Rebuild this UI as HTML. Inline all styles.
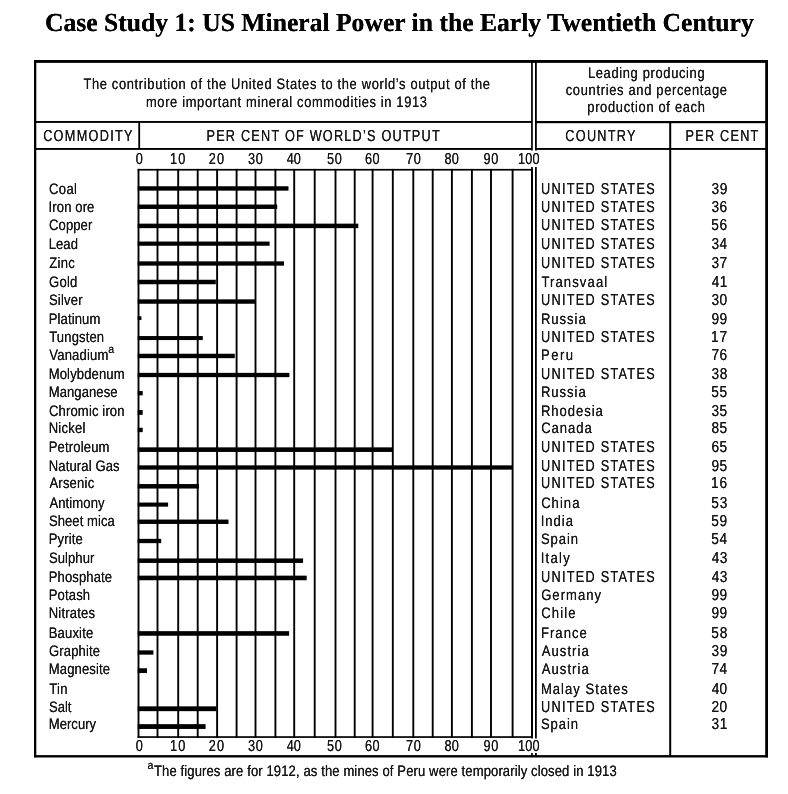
<!DOCTYPE html>
<html><head><meta charset="utf-8"><title>Case Study 1: US Mineral Power in the Early Twentieth Century</title>
<style>
html,body{margin:0;padding:0;background:#fff;width:788px;height:794px;overflow:hidden}
svg{display:block}
text{font-family:"Liberation Sans", Arial, sans-serif;fill:#151515;text-rendering:geometricPrecision}
text.ttl{font-family:"Liberation Serif", "Times New Roman", serif;font-weight:bold;fill:#000}
</style></head><body>
<svg width="788" height="794" viewBox="0 0 788 794">
<defs><filter id="k1" x="-5%" y="-30%" width="110%" height="160%"><feOffset in="SourceGraphic" dx="0.35" dy="0" result="o"/><feMerge><feMergeNode in="SourceGraphic"/><feMergeNode in="o"/></feMerge></filter><filter id="k2" x="-5%" y="-30%" width="110%" height="160%"><feOffset in="SourceGraphic" dx="0.45" dy="0" result="o"/><feMerge><feMergeNode in="SourceGraphic"/><feMergeNode in="o"/></feMerge></filter></defs>
<rect width="788" height="794" fill="#fff"/>
<g fill="#000">
<rect x="34.00" y="60.00" width="734.00" height="2.90"/>
<rect x="34.00" y="60.00" width="2.30" height="697.30"/>
<rect x="34.00" y="755.10" width="734.00" height="2.40"/>
<rect x="765.20" y="60.00" width="2.80" height="697.30"/>
<rect x="531.10" y="60.00" width="1.70" height="90.50"/>
<rect x="535.00" y="60.00" width="1.80" height="90.50"/>
<rect x="531.10" y="167.00" width="1.70" height="571.50"/>
<rect x="535.00" y="167.00" width="1.80" height="571.50"/>
<rect x="531.10" y="753.00" width="1.70" height="4.00"/>
<rect x="535.00" y="753.00" width="1.80" height="4.00"/>
<rect x="34.00" y="121.00" width="498.00" height="1.90"/>
<rect x="535.00" y="121.00" width="233.00" height="2.20"/>
<rect x="34.00" y="148.00" width="498.00" height="1.90"/>
<rect x="535.00" y="148.00" width="233.00" height="1.90"/>
<rect x="138.30" y="121.00" width="1.80" height="28.00"/>
<rect x="669.20" y="121.00" width="2.00" height="636.00"/>
<rect x="137.70" y="168.90" width="395.00" height="1.70"/>
<rect x="137.70" y="736.20" width="395.00" height="1.70"/>
<rect x="137.55" y="168.90" width="1.90" height="569.00"/>
<rect x="156.55" y="168.90" width="1.90" height="569.00"/>
<rect x="177.25" y="168.90" width="1.90" height="569.00"/>
<rect x="196.75" y="168.90" width="1.90" height="569.00"/>
<rect x="216.15" y="168.90" width="1.90" height="569.00"/>
<rect x="235.65" y="168.90" width="1.90" height="569.00"/>
<rect x="254.55" y="168.90" width="1.90" height="569.00"/>
<rect x="274.45" y="168.90" width="1.90" height="569.00"/>
<rect x="293.25" y="168.90" width="1.90" height="569.00"/>
<rect x="313.75" y="168.90" width="1.90" height="569.00"/>
<rect x="334.55" y="168.90" width="1.90" height="569.00"/>
<rect x="353.75" y="168.90" width="1.90" height="569.00"/>
<rect x="371.65" y="168.90" width="1.90" height="569.00"/>
<rect x="391.85" y="168.90" width="1.90" height="569.00"/>
<rect x="412.35" y="168.90" width="1.90" height="569.00"/>
<rect x="431.75" y="168.90" width="1.90" height="569.00"/>
<rect x="450.95" y="168.90" width="1.90" height="569.00"/>
<rect x="470.95" y="168.90" width="1.90" height="569.00"/>
<rect x="490.05" y="168.90" width="1.90" height="569.00"/>
<rect x="511.65" y="168.90" width="1.90" height="569.00"/>
<rect x="531.10" y="168.90" width="1.90" height="569.00"/>
<rect x="137.70" y="186.25" width="150.80" height="4.40"/>
<rect x="137.70" y="204.55" width="139.50" height="4.40"/>
<rect x="137.70" y="223.65" width="220.60" height="4.50"/>
<rect x="137.70" y="241.55" width="131.90" height="4.20"/>
<rect x="137.70" y="261.35" width="146.30" height="4.30"/>
<rect x="137.70" y="279.75" width="78.10" height="4.50"/>
<rect x="137.70" y="299.35" width="117.40" height="4.40"/>
<rect x="137.70" y="316.25" width="3.70" height="3.80"/>
<rect x="137.70" y="336.05" width="65.10" height="4.00"/>
<rect x="137.70" y="353.75" width="97.10" height="4.40"/>
<rect x="137.70" y="372.85" width="151.70" height="4.30"/>
<rect x="137.70" y="391.05" width="5.00" height="4.30"/>
<rect x="137.70" y="410.05" width="5.00" height="4.80"/>
<rect x="137.70" y="427.75" width="5.00" height="4.40"/>
<rect x="137.70" y="447.35" width="254.90" height="4.60"/>
<rect x="137.70" y="465.35" width="374.90" height="4.30"/>
<rect x="137.70" y="484.05" width="61.30" height="4.50"/>
<rect x="137.70" y="502.55" width="30.40" height="4.10"/>
<rect x="137.70" y="519.55" width="90.80" height="4.40"/>
<rect x="137.70" y="538.85" width="23.50" height="4.30"/>
<rect x="137.70" y="558.45" width="165.40" height="4.50"/>
<rect x="137.70" y="575.65" width="169.00" height="4.60"/>
<rect x="137.70" y="631.15" width="151.40" height="4.60"/>
<rect x="137.70" y="650.35" width="15.70" height="4.30"/>
<rect x="137.70" y="668.25" width="9.30" height="4.80"/>
<rect x="137.70" y="706.35" width="78.60" height="4.80"/>
<rect x="137.70" y="724.15" width="67.90" height="4.80"/>
</g>
<g>
<g filter="url(#k1)"><text id="t0" class="ttl" x="44.89" y="30.60" font-size="26" textLength="708.83" lengthAdjust="spacingAndGlyphs">Case Study 1: US Mineral Power in the Early Twentieth Century</text></g>
<g filter="url(#k1)" transform="translate(83.42,0) scale(0.85,1)"><text id="t1" x="0" y="88.70" font-size="15.2" textLength="478.33" lengthAdjust="spacing">The contribution of the United States to the world&#8217;s output of the</text></g>
<g filter="url(#k1)" transform="translate(145.96,0) scale(0.85,1)"><text id="t2" x="0" y="106.50" font-size="15.2" textLength="330.65" lengthAdjust="spacing">more important mineral commodities in 1913</text></g>
<g filter="url(#k1)" transform="translate(587.90,0) scale(0.85,1)"><text id="t3" x="0" y="77.90" font-size="15.2" textLength="137.35" lengthAdjust="spacing">Leading producing</text></g>
<g filter="url(#k1)" transform="translate(565.73,0) scale(0.85,1)"><text id="t4" x="0" y="94.50" font-size="15.2" textLength="189.70" lengthAdjust="spacing">countries and percentage</text></g>
<g filter="url(#k1)" transform="translate(587.29,0) scale(0.85,1)"><text id="t5" x="0" y="111.50" font-size="15.2" textLength="138.36" lengthAdjust="spacing">production of each</text></g>
<g filter="url(#k1)" transform="translate(43.17,0) scale(0.8,1)"><text id="t6" x="0" y="141.00" font-size="15.9" textLength="111.64" lengthAdjust="spacing">COMMODITY</text></g>
<g filter="url(#k1)" transform="translate(206.49,0) scale(0.8,1)"><text id="t7" x="0" y="141.00" font-size="15.9" textLength="291.53" lengthAdjust="spacing">PER CENT OF WORLD&#8217;S OUTPUT</text></g>
<g filter="url(#k1)" transform="translate(565.34,0) scale(0.8,1)"><text id="t8" x="0" y="141.40" font-size="15.9" textLength="87.75" lengthAdjust="spacing">COUNTRY</text></g>
<g filter="url(#k1)" transform="translate(685.49,0) scale(0.8,1)"><text id="t9" x="0" y="141.40" font-size="15.9" textLength="91.04" lengthAdjust="spacing">PER CENT</text></g>
<g filter="url(#k1)" transform="translate(135.76,0) scale(0.8,1)"><text id="t10" x="0" y="164.10" font-size="15.9" textLength="6.37" lengthAdjust="spacing">0</text></g>
<g filter="url(#k1)" transform="translate(135.76,0) scale(0.8,1)"><text id="t11" x="0" y="750.80" font-size="15.9" textLength="6.37" lengthAdjust="spacing">0</text></g>
<g filter="url(#k1)" transform="translate(170.00,0) scale(0.8,1)"><text id="t12" x="0" y="164.10" font-size="15.9" textLength="19.04" lengthAdjust="spacing">10</text></g>
<g filter="url(#k1)" transform="translate(170.00,0) scale(0.8,1)"><text id="t13" x="0" y="750.80" font-size="15.9" textLength="19.04" lengthAdjust="spacing">10</text></g>
<g filter="url(#k1)" transform="translate(208.85,0) scale(0.8,1)"><text id="t14" x="0" y="164.10" font-size="15.9" textLength="19.00" lengthAdjust="spacing">20</text></g>
<g filter="url(#k1)" transform="translate(208.85,0) scale(0.8,1)"><text id="t15" x="0" y="750.80" font-size="15.9" textLength="19.00" lengthAdjust="spacing">20</text></g>
<g filter="url(#k1)" transform="translate(247.91,0) scale(0.8,1)"><text id="t16" x="0" y="164.10" font-size="15.9" textLength="18.58" lengthAdjust="spacing">30</text></g>
<g filter="url(#k1)" transform="translate(247.91,0) scale(0.8,1)"><text id="t17" x="0" y="750.80" font-size="15.9" textLength="18.58" lengthAdjust="spacing">30</text></g>
<g filter="url(#k1)" transform="translate(286.66,0) scale(0.8,1)"><text id="t18" x="0" y="164.10" font-size="15.9" textLength="17.85" lengthAdjust="spacing">40</text></g>
<g filter="url(#k1)" transform="translate(286.66,0) scale(0.8,1)"><text id="t19" x="0" y="750.80" font-size="15.9" textLength="17.85" lengthAdjust="spacing">40</text></g>
<g filter="url(#k1)" transform="translate(327.11,0) scale(0.8,1)"><text id="t20" x="0" y="164.10" font-size="15.9" textLength="18.46" lengthAdjust="spacing">50</text></g>
<g filter="url(#k1)" transform="translate(327.11,0) scale(0.8,1)"><text id="t21" x="0" y="750.80" font-size="15.9" textLength="18.46" lengthAdjust="spacing">50</text></g>
<g filter="url(#k1)" transform="translate(364.95,0) scale(0.8,1)"><text id="t22" x="0" y="164.10" font-size="15.9" textLength="18.16" lengthAdjust="spacing">60</text></g>
<g filter="url(#k1)" transform="translate(364.95,0) scale(0.8,1)"><text id="t23" x="0" y="750.80" font-size="15.9" textLength="18.16" lengthAdjust="spacing">60</text></g>
<g filter="url(#k1)" transform="translate(405.91,0) scale(0.8,1)"><text id="t24" x="0" y="164.10" font-size="15.9" textLength="18.61" lengthAdjust="spacing">70</text></g>
<g filter="url(#k1)" transform="translate(405.91,0) scale(0.8,1)"><text id="t25" x="0" y="750.80" font-size="15.9" textLength="18.61" lengthAdjust="spacing">70</text></g>
<g filter="url(#k1)" transform="translate(444.42,0) scale(0.8,1)"><text id="t26" x="0" y="164.10" font-size="15.9" textLength="18.15" lengthAdjust="spacing">80</text></g>
<g filter="url(#k1)" transform="translate(444.42,0) scale(0.8,1)"><text id="t27" x="0" y="750.80" font-size="15.9" textLength="18.15" lengthAdjust="spacing">80</text></g>
<g filter="url(#k1)" transform="translate(483.61,0) scale(0.8,1)"><text id="t28" x="0" y="164.10" font-size="15.9" textLength="18.27" lengthAdjust="spacing">90</text></g>
<g filter="url(#k1)" transform="translate(483.61,0) scale(0.8,1)"><text id="t29" x="0" y="750.80" font-size="15.9" textLength="18.27" lengthAdjust="spacing">90</text></g>
<g filter="url(#k1)" transform="translate(517.96,0) scale(0.8,1)"><text id="t30" x="0" y="164.10" font-size="15.9" textLength="26.98" lengthAdjust="spacing">100</text></g>
<g filter="url(#k1)" transform="translate(517.96,0) scale(0.8,1)"><text id="t31" x="0" y="750.80" font-size="15.9" textLength="26.98" lengthAdjust="spacing">100</text></g>
<g filter="url(#k2)" transform="translate(49.02,0) scale(0.86,1)"><text id="t32" x="0" y="193.80" font-size="15.2" textLength="32.40" lengthAdjust="spacing">Coal</text></g>
<g filter="url(#k1)" transform="translate(541.00,0) scale(0.8,1)"><text id="t33" x="0" y="193.80" font-size="15.9" textLength="142.02" lengthAdjust="spacing">UNITED STATES</text></g>
<g filter="url(#k1)" transform="translate(711.38,0) scale(0.86,1)"><text id="t34" x="0" y="193.80" font-size="15.9" textLength="18.63" lengthAdjust="spacing">39</text></g>
<g filter="url(#k2)" transform="translate(48.62,0) scale(0.86,1)"><text id="t35" x="0" y="211.80" font-size="15.2" textLength="53.19" lengthAdjust="spacing">Iron ore</text></g>
<g filter="url(#k1)" transform="translate(541.00,0) scale(0.8,1)"><text id="t36" x="0" y="211.80" font-size="15.9" textLength="142.02" lengthAdjust="spacing">UNITED STATES</text></g>
<g filter="url(#k1)" transform="translate(711.38,0) scale(0.86,1)"><text id="t37" x="0" y="211.80" font-size="15.9" textLength="18.36" lengthAdjust="spacing">36</text></g>
<g filter="url(#k2)" transform="translate(49.02,0) scale(0.86,1)"><text id="t38" x="0" y="230.20" font-size="15.2" textLength="50.35" lengthAdjust="spacing">Copper</text></g>
<g filter="url(#k1)" transform="translate(541.00,0) scale(0.8,1)"><text id="t39" x="0" y="230.20" font-size="15.9" textLength="142.02" lengthAdjust="spacing">UNITED STATES</text></g>
<g filter="url(#k1)" transform="translate(711.16,0) scale(0.86,1)"><text id="t40" x="0" y="230.20" font-size="15.9" textLength="18.61" lengthAdjust="spacing">56</text></g>
<g filter="url(#k2)" transform="translate(48.75,0) scale(0.86,1)"><text id="t41" x="0" y="248.90" font-size="15.2" textLength="33.93" lengthAdjust="spacing">Lead</text></g>
<g filter="url(#k1)" transform="translate(541.00,0) scale(0.8,1)"><text id="t42" x="0" y="248.90" font-size="15.9" textLength="142.02" lengthAdjust="spacing">UNITED STATES</text></g>
<g filter="url(#k1)" transform="translate(711.38,0) scale(0.86,1)"><text id="t43" x="0" y="248.90" font-size="15.9" textLength="18.37" lengthAdjust="spacing">34</text></g>
<g filter="url(#k2)" transform="translate(49.30,0) scale(0.86,1)"><text id="t44" x="0" y="267.60" font-size="15.2" textLength="29.73" lengthAdjust="spacing">Zinc</text></g>
<g filter="url(#k1)" transform="translate(541.00,0) scale(0.8,1)"><text id="t45" x="0" y="267.60" font-size="15.9" textLength="142.02" lengthAdjust="spacing">UNITED STATES</text></g>
<g filter="url(#k1)" transform="translate(711.38,0) scale(0.86,1)"><text id="t46" x="0" y="267.60" font-size="15.9" textLength="18.37" lengthAdjust="spacing">37</text></g>
<g filter="url(#k2)" transform="translate(49.02,0) scale(0.86,1)"><text id="t47" x="0" y="286.50" font-size="15.2" textLength="32.94" lengthAdjust="spacing">Gold</text></g>
<g filter="url(#k1)" transform="translate(541.38,0) scale(0.86,1)"><text id="t48" x="0" y="286.50" font-size="15.2" textLength="76.53" lengthAdjust="spacing">Transvaal</text></g>
<g filter="url(#k1)" transform="translate(711.64,0) scale(0.86,1)"><text id="t49" x="0" y="286.50" font-size="15.9" textLength="18.18" lengthAdjust="spacing">41</text></g>
<g filter="url(#k2)" transform="translate(48.95,0) scale(0.86,1)"><text id="t50" x="0" y="304.90" font-size="15.2" textLength="39.18" lengthAdjust="spacing">Silver</text></g>
<g filter="url(#k1)" transform="translate(541.00,0) scale(0.8,1)"><text id="t51" x="0" y="304.90" font-size="15.9" textLength="142.02" lengthAdjust="spacing">UNITED STATES</text></g>
<g filter="url(#k1)" transform="translate(711.38,0) scale(0.86,1)"><text id="t52" x="0" y="304.90" font-size="15.9" textLength="18.19" lengthAdjust="spacing">30</text></g>
<g filter="url(#k2)" transform="translate(48.75,0) scale(0.86,1)"><text id="t53" x="0" y="323.90" font-size="15.2" textLength="59.96" lengthAdjust="spacing">Platinum</text></g>
<g filter="url(#k1)" transform="translate(540.91,0) scale(0.86,1)"><text id="t54" x="0" y="323.90" font-size="15.2" textLength="52.11" lengthAdjust="spacing">Russia</text></g>
<g filter="url(#k1)" transform="translate(711.55,0) scale(0.86,1)"><text id="t55" x="0" y="323.90" font-size="15.9" textLength="18.14" lengthAdjust="spacing">99</text></g>
<g filter="url(#k2)" transform="translate(49.20,0) scale(0.86,1)"><text id="t56" x="0" y="341.70" font-size="15.2" textLength="63.88" lengthAdjust="spacing">Tungsten</text></g>
<g filter="url(#k1)" transform="translate(541.00,0) scale(0.8,1)"><text id="t57" x="0" y="341.70" font-size="15.9" textLength="142.02" lengthAdjust="spacing">UNITED STATES</text></g>
<g filter="url(#k1)" transform="translate(710.89,0) scale(0.86,1)"><text id="t58" x="0" y="341.70" font-size="15.9" textLength="18.94" lengthAdjust="spacing">17</text></g>
<g filter="url(#k2)" transform="translate(49.32,0) scale(0.86,1)"><text id="t59" x="0" y="360.20" font-size="15.2" textLength="68.62" lengthAdjust="spacing">Vanadium</text></g>
<g filter="url(#k1)" transform="translate(540.91,0) scale(0.86,1)"><text id="t60" x="0" y="360.20" font-size="15.2" textLength="37.38" lengthAdjust="spacing">Peru</text></g>
<g filter="url(#k1)" transform="translate(711.50,0) scale(0.86,1)"><text id="t61" x="0" y="360.20" font-size="15.9" textLength="18.22" lengthAdjust="spacing">76</text></g>
<g filter="url(#k2)" transform="translate(48.75,0) scale(0.86,1)"><text id="t62" x="0" y="378.80" font-size="15.2" textLength="88.17" lengthAdjust="spacing">Molybdenum</text></g>
<g filter="url(#k1)" transform="translate(541.00,0) scale(0.8,1)"><text id="t63" x="0" y="378.80" font-size="15.9" textLength="142.02" lengthAdjust="spacing">UNITED STATES</text></g>
<g filter="url(#k1)" transform="translate(711.38,0) scale(0.86,1)"><text id="t64" x="0" y="378.80" font-size="15.9" textLength="18.53" lengthAdjust="spacing">38</text></g>
<g filter="url(#k2)" transform="translate(48.75,0) scale(0.86,1)"><text id="t65" x="0" y="397.20" font-size="15.2" textLength="79.95" lengthAdjust="spacing">Manganese</text></g>
<g filter="url(#k1)" transform="translate(540.91,0) scale(0.86,1)"><text id="t66" x="0" y="397.20" font-size="15.2" textLength="52.11" lengthAdjust="spacing">Russia</text></g>
<g filter="url(#k1)" transform="translate(711.16,0) scale(0.86,1)"><text id="t67" x="0" y="397.20" font-size="15.9" textLength="18.67" lengthAdjust="spacing">55</text></g>
<g filter="url(#k2)" transform="translate(49.02,0) scale(0.86,1)"><text id="t68" x="0" y="415.80" font-size="15.2" textLength="87.82" lengthAdjust="spacing">Chromic iron</text></g>
<g filter="url(#k1)" transform="translate(540.91,0) scale(0.86,1)"><text id="t69" x="0" y="415.80" font-size="15.2" textLength="72.07" lengthAdjust="spacing">Rhodesia</text></g>
<g filter="url(#k1)" transform="translate(711.38,0) scale(0.86,1)"><text id="t70" x="0" y="415.80" font-size="15.9" textLength="18.42" lengthAdjust="spacing">35</text></g>
<g filter="url(#k2)" transform="translate(48.75,0) scale(0.86,1)"><text id="t71" x="0" y="433.00" font-size="15.2" textLength="42.49" lengthAdjust="spacing">Nickel</text></g>
<g filter="url(#k1)" transform="translate(541.13,0) scale(0.86,1)"><text id="t72" x="0" y="433.00" font-size="15.2" textLength="58.96" lengthAdjust="spacing">Canada</text></g>
<g filter="url(#k1)" transform="translate(711.46,0) scale(0.86,1)"><text id="t73" x="0" y="433.00" font-size="15.9" textLength="18.32" lengthAdjust="spacing">85</text></g>
<g filter="url(#k2)" transform="translate(48.75,0) scale(0.86,1)"><text id="t74" x="0" y="451.60" font-size="15.2" textLength="70.59" lengthAdjust="spacing">Petroleum</text></g>
<g filter="url(#k1)" transform="translate(541.00,0) scale(0.8,1)"><text id="t75" x="0" y="451.60" font-size="15.9" textLength="142.02" lengthAdjust="spacing">UNITED STATES</text></g>
<g filter="url(#k1)" transform="translate(711.48,0) scale(0.86,1)"><text id="t76" x="0" y="451.60" font-size="15.9" textLength="18.30" lengthAdjust="spacing">65</text></g>
<g filter="url(#k2)" transform="translate(48.75,0) scale(0.86,1)"><text id="t77" x="0" y="470.60" font-size="15.2" textLength="82.41" lengthAdjust="spacing">Natural Gas</text></g>
<g filter="url(#k1)" transform="translate(541.00,0) scale(0.8,1)"><text id="t78" x="0" y="470.60" font-size="15.9" textLength="142.02" lengthAdjust="spacing">UNITED STATES</text></g>
<g filter="url(#k1)" transform="translate(711.55,0) scale(0.86,1)"><text id="t79" x="0" y="470.60" font-size="15.9" textLength="18.22" lengthAdjust="spacing">95</text></g>
<g filter="url(#k2)" transform="translate(49.43,0) scale(0.86,1)"><text id="t80" x="0" y="488.30" font-size="15.2" textLength="52.04" lengthAdjust="spacing">Arsenic</text></g>
<g filter="url(#k1)" transform="translate(541.00,0) scale(0.8,1)"><text id="t81" x="0" y="488.30" font-size="15.9" textLength="142.02" lengthAdjust="spacing">UNITED STATES</text></g>
<g filter="url(#k1)" transform="translate(710.89,0) scale(0.86,1)"><text id="t82" x="0" y="488.30" font-size="15.9" textLength="18.93" lengthAdjust="spacing">16</text></g>
<g filter="url(#k2)" transform="translate(49.43,0) scale(0.86,1)"><text id="t83" x="0" y="507.70" font-size="15.2" textLength="64.16" lengthAdjust="spacing">Antimony</text></g>
<g filter="url(#k1)" transform="translate(541.13,0) scale(0.86,1)"><text id="t84" x="0" y="507.70" font-size="15.2" textLength="44.56" lengthAdjust="spacing">China</text></g>
<g filter="url(#k1)" transform="translate(711.16,0) scale(0.86,1)"><text id="t85" x="0" y="507.70" font-size="15.9" textLength="18.84" lengthAdjust="spacing">53</text></g>
<g filter="url(#k2)" transform="translate(48.95,0) scale(0.86,1)"><text id="t86" x="0" y="525.50" font-size="15.2" textLength="76.61" lengthAdjust="spacing">Sheet mica</text></g>
<g filter="url(#k1)" transform="translate(540.65,0) scale(0.86,1)"><text id="t87" x="0" y="525.50" font-size="15.2" textLength="37.64" lengthAdjust="spacing">India</text></g>
<g filter="url(#k1)" transform="translate(711.16,0) scale(0.86,1)"><text id="t88" x="0" y="525.50" font-size="15.9" textLength="18.58" lengthAdjust="spacing">59</text></g>
<g filter="url(#k2)" transform="translate(48.75,0) scale(0.86,1)"><text id="t89" x="0" y="544.20" font-size="15.2" textLength="39.63" lengthAdjust="spacing">Pyrite</text></g>
<g filter="url(#k1)" transform="translate(540.94,0) scale(0.86,1)"><text id="t90" x="0" y="544.20" font-size="15.2" textLength="43.15" lengthAdjust="spacing">Spain</text></g>
<g filter="url(#k1)" transform="translate(711.16,0) scale(0.86,1)"><text id="t91" x="0" y="544.20" font-size="15.9" textLength="18.62" lengthAdjust="spacing">54</text></g>
<g filter="url(#k2)" transform="translate(48.95,0) scale(0.86,1)"><text id="t92" x="0" y="563.40" font-size="15.2" textLength="52.83" lengthAdjust="spacing">Sulphur</text></g>
<g filter="url(#k1)" transform="translate(540.65,0) scale(0.86,1)"><text id="t93" x="0" y="563.40" font-size="15.2" textLength="33.85" lengthAdjust="spacing">Italy</text></g>
<g filter="url(#k1)" transform="translate(711.64,0) scale(0.86,1)"><text id="t94" x="0" y="563.40" font-size="15.9" textLength="18.29" lengthAdjust="spacing">43</text></g>
<g filter="url(#k2)" transform="translate(48.75,0) scale(0.86,1)"><text id="t95" x="0" y="581.80" font-size="15.2" textLength="73.61" lengthAdjust="spacing">Phosphate</text></g>
<g filter="url(#k1)" transform="translate(541.00,0) scale(0.8,1)"><text id="t96" x="0" y="581.80" font-size="15.9" textLength="142.02" lengthAdjust="spacing">UNITED STATES</text></g>
<g filter="url(#k1)" transform="translate(711.64,0) scale(0.86,1)"><text id="t97" x="0" y="581.80" font-size="15.9" textLength="18.29" lengthAdjust="spacing">43</text></g>
<g filter="url(#k2)" transform="translate(48.75,0) scale(0.86,1)"><text id="t98" x="0" y="599.60" font-size="15.2" textLength="48.07" lengthAdjust="spacing">Potash</text></g>
<g filter="url(#k1)" transform="translate(541.13,0) scale(0.86,1)"><text id="t99" x="0" y="599.60" font-size="15.2" textLength="69.79" lengthAdjust="spacing">Germany</text></g>
<g filter="url(#k1)" transform="translate(711.55,0) scale(0.86,1)"><text id="t100" x="0" y="599.60" font-size="15.9" textLength="18.14" lengthAdjust="spacing">99</text></g>
<g filter="url(#k2)" transform="translate(48.75,0) scale(0.86,1)"><text id="t101" x="0" y="618.40" font-size="15.2" textLength="53.70" lengthAdjust="spacing">Nitrates</text></g>
<g filter="url(#k1)" transform="translate(541.13,0) scale(0.86,1)"><text id="t102" x="0" y="618.40" font-size="15.2" textLength="40.10" lengthAdjust="spacing">Chile</text></g>
<g filter="url(#k1)" transform="translate(711.55,0) scale(0.86,1)"><text id="t103" x="0" y="618.40" font-size="15.9" textLength="18.14" lengthAdjust="spacing">99</text></g>
<g filter="url(#k2)" transform="translate(48.75,0) scale(0.86,1)"><text id="t104" x="0" y="637.60" font-size="15.2" textLength="51.66" lengthAdjust="spacing">Bauxite</text></g>
<g filter="url(#k1)" transform="translate(540.91,0) scale(0.86,1)"><text id="t105" x="0" y="637.60" font-size="15.2" textLength="53.35" lengthAdjust="spacing">France</text></g>
<g filter="url(#k1)" transform="translate(711.16,0) scale(0.86,1)"><text id="t106" x="0" y="637.60" font-size="15.9" textLength="18.78" lengthAdjust="spacing">58</text></g>
<g filter="url(#k2)" transform="translate(49.02,0) scale(0.86,1)"><text id="t107" x="0" y="655.90" font-size="15.2" textLength="59.42" lengthAdjust="spacing">Graphite</text></g>
<g filter="url(#k1)" transform="translate(541.77,0) scale(0.86,1)"><text id="t108" x="0" y="655.90" font-size="15.2" textLength="54.62" lengthAdjust="spacing">Austria</text></g>
<g filter="url(#k1)" transform="translate(711.38,0) scale(0.86,1)"><text id="t109" x="0" y="655.90" font-size="15.9" textLength="18.63" lengthAdjust="spacing">39</text></g>
<g filter="url(#k2)" transform="translate(48.75,0) scale(0.86,1)"><text id="t110" x="0" y="674.30" font-size="15.2" textLength="71.37" lengthAdjust="spacing">Magnesite</text></g>
<g filter="url(#k1)" transform="translate(541.77,0) scale(0.86,1)"><text id="t111" x="0" y="674.30" font-size="15.2" textLength="54.62" lengthAdjust="spacing">Austria</text></g>
<g filter="url(#k1)" transform="translate(711.50,0) scale(0.86,1)"><text id="t112" x="0" y="674.30" font-size="15.9" textLength="18.22" lengthAdjust="spacing">74</text></g>
<g filter="url(#k2)" transform="translate(49.20,0) scale(0.86,1)"><text id="t113" x="0" y="693.60" font-size="15.2" textLength="21.21" lengthAdjust="spacing">Tin</text></g>
<g filter="url(#k1)" transform="translate(540.91,0) scale(0.86,1)"><text id="t114" x="0" y="693.60" font-size="15.2" textLength="100.99" lengthAdjust="spacing">Malay States</text></g>
<g filter="url(#k1)" transform="translate(711.64,0) scale(0.86,1)"><text id="t115" x="0" y="693.60" font-size="15.9" textLength="17.90" lengthAdjust="spacing">40</text></g>
<g filter="url(#k2)" transform="translate(48.95,0) scale(0.86,1)"><text id="t116" x="0" y="711.70" font-size="15.2" textLength="26.22" lengthAdjust="spacing">Salt</text></g>
<g filter="url(#k1)" transform="translate(541.00,0) scale(0.8,1)"><text id="t117" x="0" y="711.70" font-size="15.9" textLength="142.02" lengthAdjust="spacing">UNITED STATES</text></g>
<g filter="url(#k1)" transform="translate(711.54,0) scale(0.86,1)"><text id="t118" x="0" y="711.70" font-size="15.9" textLength="18.01" lengthAdjust="spacing">20</text></g>
<g filter="url(#k2)" transform="translate(48.75,0) scale(0.86,1)"><text id="t119" x="0" y="728.80" font-size="15.2" textLength="55.08" lengthAdjust="spacing">Mercury</text></g>
<g filter="url(#k1)" transform="translate(540.94,0) scale(0.86,1)"><text id="t120" x="0" y="728.80" font-size="15.2" textLength="43.15" lengthAdjust="spacing">Spain</text></g>
<g filter="url(#k1)" transform="translate(711.38,0) scale(0.86,1)"><text id="t121" x="0" y="728.80" font-size="15.9" textLength="18.48" lengthAdjust="spacing">31</text></g>
<g filter="url(#k1)" transform="translate(147.40,0) scale(0.92,1)"><text id="t122" class="sup" x="0" y="768.60" font-size="11.5">a</text></g>
<g filter="url(#k1)" transform="translate(108.30,0) scale(0.92,1)"><text id="t123" class="sup" x="0" y="352.60" font-size="11.5">a</text></g>
<g filter="url(#k2)" transform="translate(153.98,0) scale(0.86,1)"><text id="t124" x="0" y="775.60" font-size="15.2" textLength="538.03" lengthAdjust="spacing">The figures are for 1912, as the mines of Peru were temporarily closed in 1913</text></g>
</g>
</svg>
</body></html>
